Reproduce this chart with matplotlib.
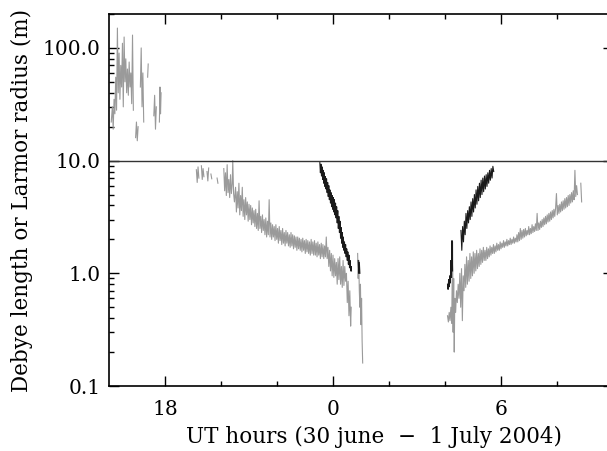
import matplotlib
matplotlib.use("Agg")
import matplotlib.pyplot as plt
import numpy as np
from matplotlib.ticker import FixedLocator, FixedFormatter, LogLocator, NullFormatter

nan = np.nan

# hours relative to 00 UT on 1 July 2004 (negative = 30 June)
# grey trace, evening of 30 June (upper cluster)
grey_a_t = [-7.92, -7.88, -7.85, -7.82, -7.79, -7.76, -7.73, -7.70, -7.67, -7.64, -7.61, -7.58,
            -7.55, -7.52, -7.49, -7.46, -7.43, -7.40, -7.37, -7.34, -7.31, -7.28, -7.25, -7.22,
            -7.19, -7.16, -7.13, -7.10, -7.05, -7.02, -6.99, -6.96, -6.92, -6.88, -6.85, -6.82,
            -6.79, -6.76, -6.70, -6.62, -6.60, -6.50, -6.40, -6.37, -6.34, -6.31, -6.25, -6.20,
            -6.18, -6.16, -6.14]
grey_a_v = [22, 30, 19, 35, 26, 55, 28, 150, 40, 90, 35, 70,
            45, 110, 30, 125, 50, 80, 40, 65, 38, 75, 45, 60,
            32, 130, 28, nan, 16, 22, 15, 20, nan, 45, 100, 30,
            60, 22, nan, 55, 72, nan, 25, 38, 19, 30, nan, 22,
            45, 26, 40]

# grey trace, 30 June -> 1 July (lower left branch)
grey_b_t = [-4.88, -4.85, -4.82, -4.79, -4.75, -4.70, -4.67, -4.64, -4.61, -4.55, -4.50, -4.47,
            -4.44, -4.40, -4.36, -4.33, -4.25, -4.14, -4.11, -4.00,
            -3.90, -3.87, -3.84, -3.81, -3.78, -3.75, -3.72, -3.69, -3.66, -3.63, -3.60, -3.58,
            -3.55, -3.52, -3.48, -3.45, -3.42, -3.39, -3.36, -3.33, -3.30, -3.27, -3.24, -3.21,
            -3.18, -3.15, -3.12, -3.09, -3.06, -3.03, -3.00, -2.97, -2.94, -2.91, -2.88, -2.85,
            -2.82, -2.79, -2.76, -2.73, -2.70, -2.67, -2.64, -2.61, -2.58, -2.55, -2.52, -2.49,
            -2.46, -2.43, -2.40, -2.37, -2.34, -2.31, -2.28, -2.25, -2.22, -2.19, -2.16, -2.13,
            -2.10, -2.07, -2.04, -2.01, -1.98, -1.95, -1.92, -1.89, -1.86, -1.83, -1.80, -1.77,
            -1.74, -1.71, -1.68, -1.65, -1.62, -1.59, -1.56, -1.53, -1.50, -1.47, -1.44, -1.41,
            -1.38, -1.35, -1.32, -1.29, -1.26, -1.23, -1.20, -1.17, -1.14, -1.11, -1.08, -1.05,
            -1.02, -0.99, -0.96, -0.93, -0.90, -0.87, -0.84, -0.81, -0.78, -0.75, -0.72, -0.69,
            -0.66, -0.63, -0.60, -0.57, -0.54, -0.51, -0.48, -0.45, -0.42, -0.39, -0.36, -0.33,
            -0.30, -0.27, -0.24, -0.21, -0.18, -0.15, -0.12, -0.09, -0.06, -0.03, 0.00, 0.03,
            0.06, 0.09, 0.12, 0.15, 0.18, 0.21, 0.24, 0.27, 0.30, 0.33, 0.36, 0.39,
            0.42, 0.45, 0.48, 0.51, 0.54, 0.57, 0.60, 0.63, 0.65, 0.75,
            0.88, 0.90, 0.92, 0.94, 0.96, 0.98, 1.00, 1.02, 1.04, 1.06]
grey_b_v = [8.3, 6.4, 8.8, 7.0, nan, 9.0, 6.8, 8.5, 7.2, nan, 8.0, 6.6,
            8.6, nan, 7.6, 6.9, nan, 7.0, 6.3, nan,
            8.5, 5.4, 7.8, 4.9, 9.2, 5.2, 6.8, 4.7, 7.5, 5.1, 6.2, 10.0,
            5.1, 4.3, 5.8, 3.5, 5.3, 3.8, 6.3, 3.3, 4.9, 3.6, 5.8, 3.2,
            4.5, 3.0, 4.7, 3.3, 4.3, 2.9, 4.1, 3.0, 4.0, 2.7, 3.8, 2.8,
            3.6, 2.6, 3.7, 2.5, 3.4, 2.4, 4.4, 2.5, 3.2, 2.3, 3.3, 2.4,
            3.0, 2.2, 3.1, 2.1, 2.9, 2.2, 4.5, 2.1, 2.8, 2.0, 2.7, 2.1,
            2.6, 1.95, 2.7, 2.0, 2.5, 1.85, 2.6, 1.95, 2.4, 1.8, 2.5, 1.85,
            2.3, 1.75, 2.4, 1.85, 2.3, 1.75, 2.2, 1.7, 2.3, 1.75, 2.2, 1.65,
            2.15, 1.7, 2.1, 1.6, 2.1, 1.65, 2.05, 1.6, 2.0, 1.55, 2.05, 1.6,
            1.95, 1.5, 2.0, 1.55, 1.95, 1.5, 1.9, 1.45, 2.0, 1.5, 1.9, 1.45,
            1.95, 1.45, 1.85, 1.4, 1.9, 1.45, 1.8, 1.35, 1.85, 1.4, 1.8, 1.35,
            1.75, 1.4, 2.1, 1.35, 1.7, 1.15, 1.6, 1.05, 1.5, 0.95, 1.45, 0.92,
            1.35, 0.95, 1.25, 0.8, 1.35, 0.88, 1.4, 0.8, 1.15, 0.75, 1.3, 0.78,
            1.15, 0.85, 1.0, 0.55, 0.85, 0.42, 0.7, 0.34, 0.5, nan,
            1.5, 0.9, 1.3, 0.7, 0.5, 0.8, 0.35, 0.6, 0.25, 0.16]

# black trace, before midnight
black_a_t = [-0.47, -0.45, -0.43, -0.41, -0.39, -0.37, -0.35, -0.33, -0.31, -0.29, -0.27, -0.25,
             -0.23, -0.21, -0.19, -0.17, -0.15, -0.13, -0.11, -0.09, -0.07, -0.05, -0.03, -0.01,
             0.01, 0.03, 0.05, 0.07, 0.09, 0.11, 0.13, 0.15, 0.17, 0.19, 0.21, 0.23,
             0.25, 0.27, 0.29, 0.31, 0.33, 0.35, 0.37, 0.39, 0.41, 0.43, 0.45, 0.47,
             0.49, 0.51, 0.53, 0.55, 0.57, 0.59, 0.61, 0.63, 0.65, 0.66, 0.80,
             0.90, 0.92, 0.94, 0.96]
black_a_v = [9.6, 7.8, 9.3, 7.3, 8.8, 6.8, 8.2, 6.3, 7.8, 5.9, 7.2, 5.6,
             6.9, 5.2, 6.4, 4.8, 6.0, 4.5, 5.5, 4.2, 5.2, 3.9, 4.9, 3.7,
             4.7, 3.5, 4.5, 3.3, 4.2, 3.1, 3.9, 2.8, 3.6, 2.5, 3.2, 2.3,
             2.9, 2.05, 2.55, 1.85, 2.3, 1.7, 2.1, 1.6, 1.9, 1.5, 1.8, 1.4,
             1.65, 1.3, 1.55, 1.2, 1.45, 1.12, 1.3, 1.05, 1.15, 1.05, nan,
             1.3, 1.0, 1.25, 1.0]

# black trace, morning of 1 July
black_b_t = [4.09, 4.11, 4.13, 4.15, 4.17, 4.19, 4.21, 4.23, 4.25, 4.27, 4.40,
             4.57, 4.60, 4.63, 4.66, 4.69, 4.72, 4.75, 4.78, 4.81, 4.84, 4.87, 4.90,
             4.93, 4.96, 4.99, 5.02, 5.05, 5.08, 5.11, 5.14, 5.17, 5.20, 5.23, 5.26,
             5.29, 5.32, 5.35, 5.38, 5.41, 5.44, 5.47, 5.50, 5.53, 5.56, 5.59, 5.62,
             5.65, 5.68, 5.71, 5.74]
black_b_v = [0.80, 0.72, 0.88, 0.76, 0.95, 0.82, 1.3, 0.92, 1.95, 1.05, nan,
             2.4, 1.6, 2.6, 1.9, 2.9, 2.2, 3.4, 2.5, 3.6, 2.8, 3.9, 3.0,
             4.3, 3.2, 4.6, 3.5, 5.0, 3.8, 5.5, 4.1, 5.9, 4.4, 6.3, 4.7,
             6.7, 5.0, 7.0, 5.3, 7.3, 5.6, 7.5, 5.9, 7.8, 6.3, 8.2, 6.7,
             8.5, 7.0, 8.9, 8.0]

# grey trace, morning of 1 July
grey_c_t = [4.09, 4.12, 4.15, 4.18, 4.21, 4.24, 4.27, 4.29, 4.31, 4.33, 4.35, 4.38,
            4.41, 4.44, 4.47, 4.50, 4.53, 4.56, 4.59, 4.62, 4.65, 4.68, 4.71, 4.74,
            4.77, 4.80, 4.83, 4.86, 4.89, 4.92, 4.95, 4.98, 5.01, 5.04, 5.07, 5.10,
            5.13, 5.16, 5.19, 5.22, 5.25, 5.28, 5.31, 5.34, 5.37, 5.40, 5.43, 5.46,
            5.49, 5.52, 5.55, 5.58, 5.61, 5.64, 5.67, 5.70, 5.73, 5.76, 5.79, 5.82,
            5.85, 5.88, 5.91, 5.94, 5.97, 6.00, 6.03, 6.06, 6.09, 6.12, 6.15, 6.18,
            6.21, 6.24, 6.27, 6.30, 6.33, 6.36, 6.39, 6.42, 6.45, 6.48, 6.51, 6.54,
            6.57, 6.60, 6.63, 6.66, 6.69, 6.72, 6.75, 6.78, 6.81, 6.84, 6.87, 6.90,
            6.93, 6.96, 6.99, 7.02, 7.05, 7.08, 7.11, 7.14, 7.17, 7.20, 7.23, 7.26,
            7.29, 7.32, 7.35, 7.38, 7.41, 7.44, 7.47, 7.50, 7.53, 7.56, 7.59, 7.62,
            7.65, 7.68, 7.71, 7.74, 7.77, 7.80, 7.83, 7.86, 7.89, 7.92, 7.95, 7.98,
            8.01, 8.04, 8.07, 8.10, 8.13, 8.16, 8.19, 8.22, 8.25, 8.28, 8.31, 8.34,
            8.37, 8.40, 8.43, 8.46, 8.49, 8.52, 8.55, 8.58, 8.61, 8.64, 8.67, 8.70,
            8.73, 8.80, 8.85, 8.88]
grey_c_v = [0.42, 0.37, 0.45, 0.38, 0.5, 0.36, 1.9, 0.3, 0.9, 0.2, 0.6, 0.45,
            0.7, 0.55, 0.8, 0.6, 1.0, 0.5, 1.1, 0.38, 0.95, 0.7, 1.2, 0.75,
            1.4, 0.8, 1.3, 0.85, 1.5, 0.9, 1.4, 0.95, 1.55, 1.0, 1.5, 1.05,
            1.6, 1.1, 1.5, 1.15, 1.65, 1.2, 1.6, 1.25, 1.7, 1.3, 1.6, 1.3,
            1.7, 1.35, 1.65, 1.4, 1.75, 1.45, 1.7, 1.5, 1.8, 1.5, 1.75, 1.55,
            1.85, 1.6, 1.8, 1.6, 1.9, 1.65, 1.85, 1.7, 1.95, 1.7, 1.9, 1.75,
            2.0, 1.75, 1.95, 1.8, 2.05, 1.8, 2.0, 1.85, 2.1, 1.85, 2.05, 1.9,
            2.2, 1.9, 2.3, 1.95, 2.5, 2.0, 2.4, 2.05, 2.45, 2.1, 2.5, 2.15,
            2.4, 2.2, 2.6, 2.2, 2.5, 2.25, 2.7, 2.3, 2.6, 2.35, 2.75, 2.4,
            3.4, 2.4, 2.8, 2.45, 2.9, 2.55, 3.0, 2.6, 3.1, 2.7, 3.2, 2.75,
            3.3, 2.85, 3.4, 2.9, 3.5, 3.0, 3.6, 3.1, 3.7, 3.2, 3.8, 5.1,
            3.3, 4.0, 3.4, 4.1, 3.5, 4.3, 3.6, 4.4, 3.7, 4.6, 3.8, 4.7,
            3.9, 4.9, 4.0, 5.0, 4.2, 5.2, 4.3, 5.4, 4.5, 8.2, 4.8, 6.0,
            5.0, nan, 6.3, 4.3]

x_ticks = [-6, 0, 6]
x_ticklabels = ["18", "0", "6"]
y_ticks = [0.1, 1.0, 10.0, 100.0]
y_ticklabels = ["0.1", "1.0", "10.0", "100.0"]

plt.rcParams["font.family"] = "DejaVu Serif"
plt.rcParams["font.size"] = 14.5

fig = plt.figure(figsize=(6.07, 4.51), dpi=100)
# right edge of the frame lies just outside the picture, as in the original
ax = fig.add_axes([109 / 607, 65 / 451, 504 / 607, 372 / 451])

grey = "#9a9a9a"
ax.plot(grey_a_t, grey_a_v, color=grey, lw=0.8)
ax.plot(grey_b_t, grey_b_v, color=grey, lw=0.8)
ax.plot(grey_c_t, grey_c_v, color=grey, lw=0.8)
ax.plot(black_a_t, black_a_v, color="#1a1a1a", lw=0.8)
ax.plot(black_b_t, black_b_v, color="#1a1a1a", lw=0.8)
ax.axhline(10.0, color="#333333", lw=1.0)

ax.set_yscale("log")
ax.set_xlim(-8, 10)
ax.set_ylim(0.1, 200)

ax.xaxis.set_major_locator(FixedLocator(x_ticks))
ax.xaxis.set_major_formatter(FixedFormatter(x_ticklabels))
ax.xaxis.set_minor_locator(FixedLocator([-4, -2, 2, 4, 8]))
ax.yaxis.set_major_locator(FixedLocator(y_ticks))
ax.yaxis.set_major_formatter(FixedFormatter(y_ticklabels))
ax.yaxis.set_minor_locator(LogLocator(base=10, subs=np.arange(2, 10)))
ax.yaxis.set_minor_formatter(NullFormatter())

ax.tick_params(which="both", direction="in", top=True, right=True, width=1.0, color="black")
ax.tick_params(which="major", length=7.2)
ax.tick_params(which="minor", length=3.6)
ax.tick_params(axis="x", which="major", pad=10)
ax.tick_params(axis="y", which="major", pad=6)
for s in ax.spines.values():
    s.set_linewidth(1.2)

ax.set_xlabel("UT hours (30 june  \u2212  1 July 2004)", va="center", fontsize=15.5)
ax.xaxis.set_label_coords(0.526, -0.137)
ax.set_ylabel("Debye length or Larmor radius (m)", va="center", fontsize=15.5)
ax.yaxis.set_label_coords(-0.173, 0.5)

fig.savefig("out.png", dpi=100)
